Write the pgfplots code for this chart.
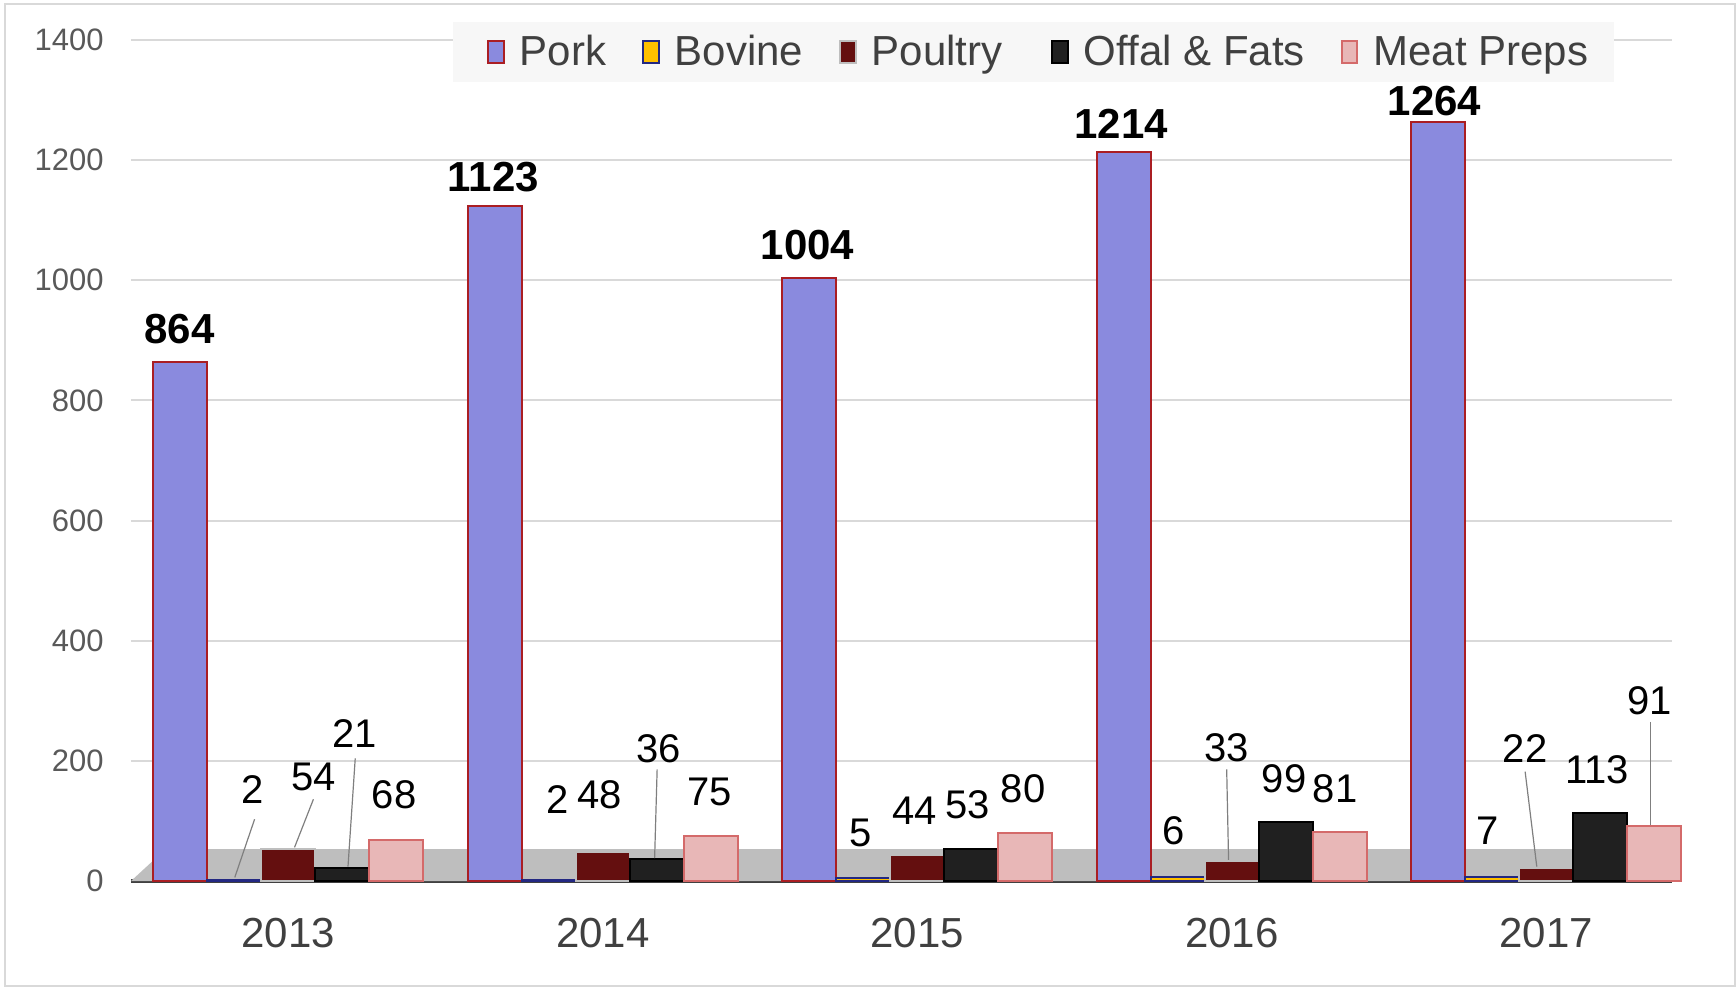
\documentclass[border=0pt]{standalone}
\usepackage{pgfplots}
\usepackage{pgfplotstable}
\pgfplotsset{compat=1.18}
\usepackage{fontspec}
\setmainfont{Liberation Sans}
\definecolor{porkc}{RGB}{138,138,222}
\definecolor{porke}{RGB}{170,30,35}
\definecolor{bovc}{RGB}{255,192,0}
\definecolor{bove}{RGB}{35,40,130}
\definecolor{poulc}{RGB}{100,15,15}
\definecolor{poule}{RGB}{190,190,190}
\definecolor{offc}{RGB}{32,32,32}
\definecolor{offe}{RGB}{0,0,0}
\definecolor{meatc}{RGB}{232,183,183}
\definecolor{meate}{RGB}{212,106,106}
\definecolor{gridc}{RGB}{217,217,217}
\definecolor{floorc}{RGB}{190,190,190}
\definecolor{legbg}{RGB}{247,247,247}
\definecolor{textc}{RGB}{64,64,64}
\definecolor{ytc}{RGB}{89,89,89}
\definecolor{leadc}{RGB}{127,127,127}

\pgfplotstableread{
x    pork bovine poultry offal meat
0    864  2      54      21    68
1    1123 2      48      36    75
2    1004 5      44      53    80
3    1214 6      33      99    81
4    1264 7      22      113   91
}\data

\pgfplotstableread{
x      y      lab
-0.346 919    864
0.652  1172   1123
1.651  1058   1004
2.649  1260   1214
3.645  1298   1264
}\porklabels

\pgfplotstableread{
x      y      lab
-0.114 152.5  2
0.080  172.8  54
0.210  244.7  21
0.337  143.3  68
0.856  136.0  2
0.990  143.3  48
1.177  220.7  36
1.339  148.9  75
1.820  80.7   5
1.992  117.5  44
2.161  126.7  53
2.337  154.4  80
2.815  84.3   6
2.984  222.6  33
3.167  171.0  99
3.329  154.4  81
3.814  84.3   7
3.933  220.7  22
4.162  185.7  113
4.328  300.0  91
}\smalllabels

\begin{document}
\begin{tikzpicture}
\useasboundingbox (0,0) rectangle (868pt,493.5pt);
\draw[color=gridc, line width=1pt] (2.5pt,0.5pt) rectangle (867.3pt,491.5pt);
\begin{axis}[
  at={(65.5pt,53pt)}, anchor=south west,
  scale only axis, width=770.5pt, height=420.5pt,
  xmin=-0.5, xmax=4.4, ymin=0, ymax=1400,
  clip=false,
  axis lines*=left,
  axis line style={-},
  x axis line style={draw=textc, line width=1.6pt},
  y axis line style={draw=none},
  major tick length=0pt,
  xtick={0,1,2,3,4},
  xticklabels={2013,2014,2015,2016,2017},
  ytick={0,200,400,600,800,1000,1200,1400},
  /pgf/number format/.cd, 1000 sep={}, assume math mode=true, /pgfplots/.cd,
  ymajorgrids,
  grid style={draw=gridc, line width=1pt},
  xticklabel style={anchor=center, yshift=-26pt, inner sep=0pt, text=textc, font=\fontsize{21}{25}\selectfont},
  yticklabel style={anchor=east, xshift=-13.5pt, inner sep=0pt, text=ytc, font=\fontsize{15.5}{18}\selectfont},
  legend style={at={(axis description cs:0.209,1.0214)}, anchor=north west,
    fill=legbg, draw=none, font=\fontsize{21}{25}\selectfont, text=textc,
    inner xsep=8pt, inner ysep=4.5pt,
    /tikz/every odd column/.append style={column sep=5.5pt},
    /tikz/every even column/.append style={column sep=7pt}},
  legend columns=5,
  legend image code/.code={\path (-9pt,0pt); \draw[#1, line width=1pt] (0pt,-5.5pt) rectangle (7.75pt,5.5pt);},
]
% floor
\addplot[fill=floorc, draw=none, forget plot] coordinates {(-0.5,0) (4.4,0) (4.33,53) (-0.39,53)} -- cycle;

\addplot[ybar, bar width=27pt, bar shift=-54pt, fill=porkc, draw=porke, line width=1pt] table[x=x, y=pork] {\data};
\addlegendentry{Pork}
\addplot[ybar, bar width=27pt, bar shift=-27pt, fill=bovc, draw=bove, line width=1pt] table[x=x, y=bovine] {\data};
\addlegendentry{Bovine}
\addplot[ybar, bar width=27pt, bar shift=0pt, fill=poulc, draw=poule, line width=1pt] table[x=x, y=poultry] {\data};
\addlegendentry{Poultry\rule{6.5pt}{0pt}}
\addplot[ybar, bar width=27pt, bar shift=27pt, fill=offc, draw=offe, line width=1pt] table[x=x, y=offal] {\data};
\addlegendentry{Offal \& Fats}
\addplot[ybar, bar width=27pt, bar shift=54pt, fill=meatc, draw=meate, line width=1pt] table[x=x, y=meat] {\data};
\addlegendentry{Meat Preps\rule{3pt}{0pt}}

% leader lines
\addplot[leadc, line width=0.6pt, forget plot] coordinates {(-0.107,102.8) (-0.170,6)};
\addplot[leadc, line width=0.6pt, forget plot] coordinates {(0.080,136) (0.02,56)};
\addplot[leadc, line width=0.6pt, forget plot] coordinates {(0.213,204) (0.190,24)};
\addplot[leadc, line width=0.6pt, forget plot] coordinates {(1.173,186) (1.165,38)};
\addplot[leadc, line width=0.6pt, forget plot] coordinates {(2.984,186) (2.99,35)};
\addplot[leadc, line width=0.6pt, forget plot] coordinates {(3.933,182) (3.97,24)};
\addplot[leadc, line width=0.6pt, forget plot] coordinates {(4.331,265) (4.331,93)};

% labels
\addplot[draw=none, mark=none, forget plot, nodes near coords, point meta=explicit symbolic,
  every node near coord/.append style={anchor=center, inner sep=0pt, text=black, font=\bfseries\fontsize{21}{25}\selectfont}]
  table[x=x, y=y, meta=lab] {\porklabels};
\addplot[draw=none, mark=none, forget plot, nodes near coords, point meta=explicit symbolic,
  every node near coord/.append style={anchor=center, inner sep=0pt, text=black, font=\fontsize{20}{24}\selectfont}]
  table[x=x, y=y, meta=lab] {\smalllabels};
\end{axis}
\end{tikzpicture}
\end{document}
